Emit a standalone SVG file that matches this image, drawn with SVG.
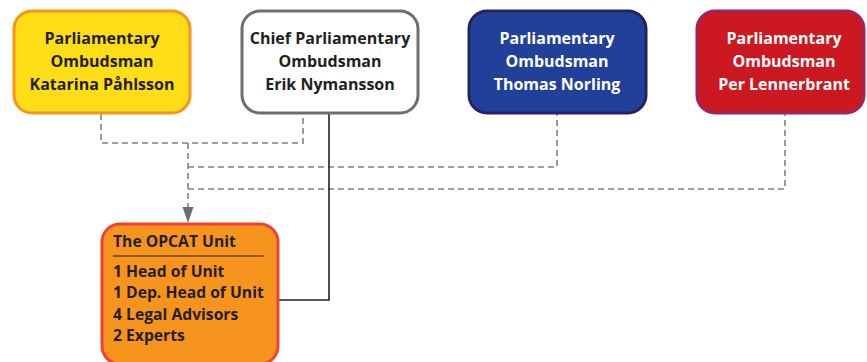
<svg xmlns="http://www.w3.org/2000/svg" width="867" height="362" viewBox="0 0 867 362">
<defs>
<style>
.t{font-family:"Open Sans","Liberation Sans",sans-serif;font-weight:bold;font-size:16px;text-anchor:middle}
.l{font-family:"Open Sans","Liberation Sans",sans-serif;font-weight:bold;font-size:15.7px;fill:#231F20}
.d{fill:none;stroke:#808184;stroke-width:1.6;stroke-dasharray:6,4}
</style>
</defs>
<rect width="867" height="362" fill="#fff"/>
<g id="connectors">
<path class="d" d="M101,114 V143 H303 V114"/>
<path class="d" d="M188,143 V209"/>
<path d="M182.5,207 L193.5,207 L188,223 Z" fill="#6D6E71"/>
<path class="d" d="M188,167 H557 V114"/>
<path class="d" d="M188,189 H785 V114"/>
<path d="M329,114 V300 H278" fill="none" stroke="#231F20" stroke-width="1.6"/>
</g>
<g id="n1">
<rect x="14" y="11" width="176" height="102" rx="18" fill="#FFDD17" stroke="#F7941D" stroke-width="3"/>
<text class="t" fill="#231F20"><tspan x="102" y="44">Parliamentary</tspan><tspan x="102" y="67">Ombudsman</tspan><tspan x="102" y="90">Katarina Påhlsson</tspan></text>
</g>
<g id="n2">
<rect x="242" y="11" width="176" height="102" rx="18" fill="#fff" stroke="#6D6E71" stroke-width="3"/>
<text class="t" fill="#231F20"><tspan x="330" y="44">Chief Parliamentary</tspan><tspan x="330" y="67">Ombudsman</tspan><tspan x="330" y="90">Erik Nymansson</tspan></text>
</g>
<g id="n3">
<rect x="469" y="11" width="177" height="102" rx="18" fill="#21409A" stroke="#262262" stroke-width="3"/>
<text class="t" fill="#fff"><tspan x="557" y="44">Parliamentary</tspan><tspan x="557" y="67">Ombudsman</tspan><tspan x="557" y="90">Thomas Norling</tspan></text>
</g>
<g id="n4">
<rect x="697" y="11" width="167" height="102" rx="18" fill="#CC1821" stroke="#9E2464" stroke-width="3"/>
<text class="t" fill="#fff"><tspan x="784" y="44">Parliamentary</tspan><tspan x="784" y="67">Ombudsman</tspan><tspan x="784" y="90">Per Lennerbrant</tspan></text>
</g>
<g id="opcat">
<rect x="102" y="224" width="176" height="140" rx="18" fill="#F7941D" stroke="#EF4136" stroke-width="3"/>
<text class="l" x="113" y="247">The OPCAT Unit</text>
<line x1="113" y1="256" x2="264" y2="256" stroke="#231F20" stroke-width="1.2"/>
<text class="l"><tspan x="113" y="277">1 Head of Unit</tspan><tspan x="113" y="298">1 Dep. Head of Unit</tspan><tspan x="113" y="320">4 Legal Advisors</tspan><tspan x="113" y="341">2 Experts</tspan></text>
</g>
</svg>
